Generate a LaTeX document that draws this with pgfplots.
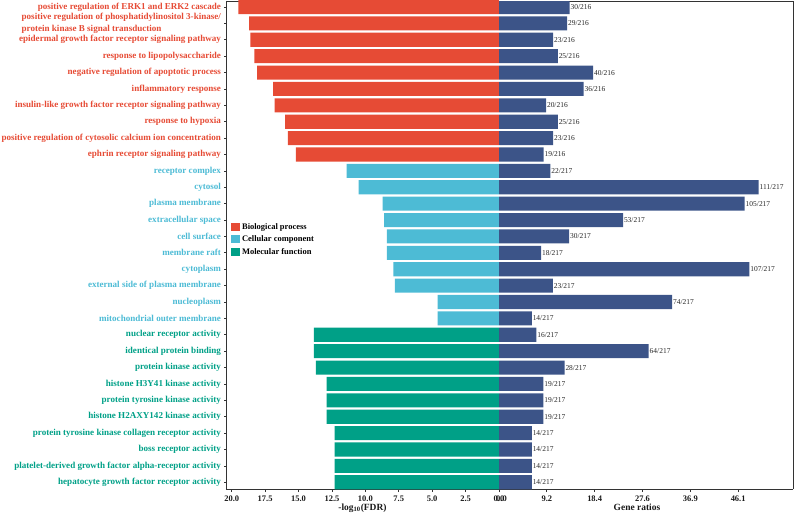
\documentclass[border=0pt]{standalone}
\usepackage{pgfplots}
\usepackage{pgfplotstable}
\pgfplotsset{compat=1.18}
\usepackage{fontspec}
\setmainfont{Liberation Serif}
\definecolor{cBP}{HTML}{E64B35}
\definecolor{cCC}{HTML}{4DBBD5}
\definecolor{cMF}{HTML}{00A087}
\definecolor{cGR}{HTML}{3C5488}

\pgfplotstableread{
y fdr
1 19.5
2 18.7
3 18.6
4 18.3
5 18.1
6 16.9
7 16.8
8 16.0
9 15.8
10 15.2
}\bpdata
\pgfplotstableread{
y fdr
11 11.4
12 10.5
13 8.7
14 8.6
15 8.4
16 8.4
17 7.9
18 7.8
19 4.6
20 4.6
}\ccdata
\pgfplotstableread{
y fdr
21 13.85
22 13.85
23 13.7
24 12.9
25 12.9
26 12.9
27 12.3
28 12.3
29 12.3
30 12.3
}\mfdata
\pgfplotstableread{
y pct lab
1 13.89 30/216
2 13.43 29/216
3 10.65 23/216
4 11.57 25/216
5 18.52 40/216
6 16.67 36/216
7 9.26 20/216
8 11.57 25/216
9 10.65 23/216
10 8.80 19/216
11 10.14 22/217
12 51.15 111/217
13 48.39 105/217
14 24.42 53/217
15 13.82 30/217
16 8.29 18/217
17 49.31 107/217
18 10.60 23/217
19 34.10 74/217
20 6.45 14/217
21 7.37 16/217
22 29.49 64/217
23 12.90 28/217
24 8.76 19/217
25 8.76 19/217
26 8.76 19/217
27 6.45 14/217
28 6.45 14/217
29 6.45 14/217
30 6.45 14/217
}\grdata

\pgfplotsset{
  common/.style={
    scale only axis,
    height=488bp,
    anchor=south west,
    y dir=reverse,
    ymin=0.634, ymax=30.41,
    xbar, bar shift=0pt, bar width=0.86,
    separate axis lines,
    axis line style={-, line width=0.8bp, black!80},
    tick style={line width=0.7bp, black!80},
    tick align=outside,
    major tick length=3bp,
    /pgf/number format/assume math mode=true,
    xticklabel style={font=\fontsize{8.5}{10}\selectfont\bfseries, text=black!90},
  },
  mylabel/.style={xlabel style={at={(axis description cs:0.5,0)}, anchor=north, yshift=-11bp,
    font=\fontsize{9.5}{11}\selectfont\bfseries, text=black!90}},
}

\begin{document}
\begin{tikzpicture}
\useasboundingbox (0bp,0bp) rectangle (794bp,515bp);
\begin{axis}[common,
  at={(226bp,26bp)}, width=273bp,
  x dir=reverse, xmin=0, xmax=20.43,
  axis x line=box, axis y line=left,
  xtick pos=left, ytick pos=left,
  axis line style={-},
  mylabel,
  xtick={0,2.5,5,7.5,10,12.5,15,17.5,20},
  xticklabels={0.0,2.5,5.0,7.5,10.0,12.5,15.0,17.5,20.0},
  xlabel={-log\textsubscript{10}(FDR)},
  ytick={1,...,30},
  yticklabel style={font=\fontsize{9.1}{11.5}\selectfont\bfseries},
  yticklabels={
    {\textcolor{cBP}{positive regulation of ERK1 and ERK2 cascade}},
    {\textcolor{cBP}{\begin{tabular}{@{}l@{}}positive regulation of phosphatidylinositol 3-kinase/\\protein kinase B signal transduction\end{tabular}}},
    {\textcolor{cBP}{epidermal growth factor receptor signaling pathway}},
    {\textcolor{cBP}{response to lipopolysaccharide}},
    {\textcolor{cBP}{negative regulation of apoptotic process}},
    {\textcolor{cBP}{inflammatory response}},
    {\textcolor{cBP}{insulin-like growth factor receptor signaling pathway}},
    {\textcolor{cBP}{response to hypoxia}},
    {\textcolor{cBP}{positive regulation of cytosolic calcium ion concentration}},
    {\textcolor{cBP}{ephrin receptor signaling pathway}},
    {\textcolor{cCC}{receptor complex}},
    {\textcolor{cCC}{cytosol}},
    {\textcolor{cCC}{plasma membrane}},
    {\textcolor{cCC}{extracellular space}},
    {\textcolor{cCC}{cell surface}},
    {\textcolor{cCC}{membrane raft}},
    {\textcolor{cCC}{cytoplasm}},
    {\textcolor{cCC}{external side of plasma membrane}},
    {\textcolor{cCC}{nucleoplasm}},
    {\textcolor{cCC}{mitochondrial outer membrane}},
    {\textcolor{cMF}{nuclear receptor activity}},
    {\textcolor{cMF}{identical protein binding}},
    {\textcolor{cMF}{protein kinase activity}},
    {\textcolor{cMF}{histone H3Y41 kinase activity}},
    {\textcolor{cMF}{protein tyrosine kinase activity}},
    {\textcolor{cMF}{histone H2AXY142 kinase activity}},
    {\textcolor{cMF}{protein tyrosine kinase collagen receptor activity}},
    {\textcolor{cMF}{boss receptor activity}},
    {\textcolor{cMF}{platelet-derived growth factor alpha-receptor activity}},
    {\textcolor{cMF}{hepatocyte growth factor receptor activity}}
  },
  legend style={at={(0.018,0.549)}, anchor=north west, draw=none, fill=none,
    font=\fontsize{8.5}{10}\selectfont\bfseries, row sep=1.2bp, inner sep=0pt,
    legend cell align=left},
  legend image code/.code={\fill[#1, draw=none] (0bp,-3.8bp) rectangle (9bp,4.2bp);},
]
\addplot[fill=cBP, draw=none] table[x=fdr, y=y] {\bpdata};
\addplot[fill=cCC, draw=none] table[x=fdr, y=y] {\ccdata};
\addplot[fill=cMF, draw=none] table[x=fdr, y=y] {\mfdata};
\legend{Biological process, Cellular component, Molecular function}
\end{axis}

\begin{axis}[common,
  at={(499bp,26bp)}, width=294bp,
  xmin=0, xmax=57.9,
  axis x line=box, axis y line=right,
  xtick pos=left,
  axis line style={-},
  mylabel,
  xlabel style={xshift=-9bp},
  ytick=\empty,
  xtick={0,9.42,18.84,28.26,37.68,47.1},
  xticklabels={{\hspace{5bp}0.0},9.2,18.4,27.6,36.9,46.1},
  xlabel={Gene ratios},
  nodes near coords,
  point meta=explicit symbolic,
  every node near coord/.append style={font=\fontsize{7.5}{9}\selectfont, anchor=west, inner sep=0.8bp, text=black!85},
]
\addplot[fill=cGR, draw=none] table[x=pct, y=y, meta=lab] {\grdata};
\end{axis}
\end{tikzpicture}
\end{document}
